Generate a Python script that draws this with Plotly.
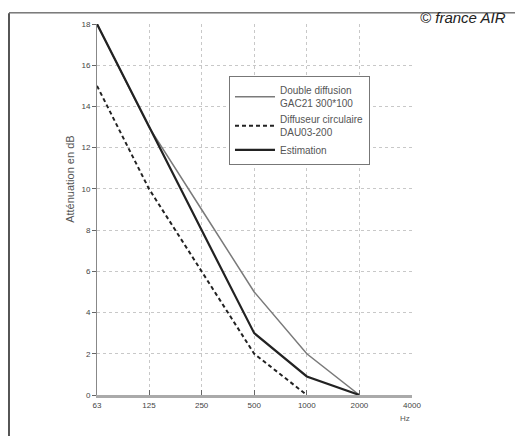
import plotly.graph_objects as go

# fréquences (Hz) et atténuations (dB)
freqs = [63, 125, 250, 500, 1000, 2000]
freqs_circ = [63, 125, 250, 500, 1000]
double_diffusion = [18, 13, 9, 5, 2, 0]
diffuseur_circulaire = [15, 10, 6, 2, 0]
estimation = [18, 13, 8, 3, 0.9, 0]

tick_vals = [63, 125, 250, 500, 1000, 2000, 4000]
tick_text = ['63', '125', '250', '500', '1000', '2000', '4000']

fig = go.Figure()

fig.add_trace(go.Scatter(
    x = freqs,
    y = double_diffusion,
    mode = 'lines',
    name = 'Double diffusion<br>GAC21 300*100',
    line = dict(color = '#7a7a7a', width = 1.5)
))

fig.add_trace(go.Scatter(
    x = freqs_circ,
    y = diffuseur_circulaire,
    mode = 'lines',
    name = 'Diffuseur circulaire<br>DAU03-200',
    line = dict(color = '#222222', width = 2, dash = '4px,3px')
))

fig.add_trace(go.Scatter(
    x = freqs,
    y = estimation,
    mode = 'lines',
    name = 'Estimation',
    line = dict(color = '#222222', width = 2.2)
))

tick_font = dict(family = 'Liberation Sans', size = 8, color = '#444444')

# la page html a une marge de 8 px : marges décalées en conséquence
fig.update_layout(
    width = 523,
    height = 436,
    margin = dict(l = 89, r = 119, t = 12, b = 49),
    paper_bgcolor = 'white',
    plot_bgcolor = 'white',
    showlegend = True,
    legend = dict(
        x = 0.419,
        y = 0.859,
        xanchor = 'left',
        yanchor = 'top',
        bgcolor = 'white',
        bordercolor = '#777777',
        borderwidth = 1,
        itemwidth = 40,
        font = dict(family = 'Liberation Sans', size = 10, color = '#555555'),
        tracegroupgap = 4
    ),
    xaxis = dict(
        type = 'log',
        range = [1.7993, 3.6021],
        tickvals = tick_vals,
        ticktext = tick_text,
        tickfont = tick_font,
        showgrid = True,
        gridcolor = '#c8c8c8',
        griddash = 'dot',
        gridwidth = 1,
        showline = True,
        linecolor = '#aaaaaa',
        linewidth = 3,
        ticks = 'inside',
        ticklen = 5,
        tickcolor = '#666666',
        zeroline = False
    ),
    yaxis = dict(
        range = [0, 18],
        dtick = 2,
        tickfont = tick_font,
        showgrid = True,
        gridcolor = '#c8c8c8',
        griddash = 'dot',
        gridwidth = 1,
        showline = True,
        linecolor = '#888888',
        linewidth = 1,
        ticks = 'outside',
        ticklen = 4,
        tickcolor = '#666666',
        zeroline = False
    ),
    shapes = [
        # cadre gauche et haut
        dict(type = 'line', xref = 'paper', yref = 'paper',
             x0 = -0.2794, x1 = -0.2794, y0 = 1.029, y1 = -0.2,
             line = dict(color = '#555555', width = 2)),
        dict(type = 'line', xref = 'paper', yref = 'paper',
             x0 = -0.2794, x1 = 1.4, y0 = 1.030, y1 = 1.030,
             line = dict(color = '#333333', width = 1)),
    ],
    annotations = [
        dict(text = '<i>© france AIR</i>', xref = 'paper', yref = 'paper',
             x = 1.305, y = 1.0187, xanchor = 'right', yanchor = 'middle',
             showarrow = False,
             font = dict(family = 'Liberation Sans', size = 15, color = '#222222')),
        dict(text = 'Atténuation en dB', xref = 'paper', yref = 'paper',
             x = -0.111, y = 0.58, textangle = -90,
             showarrow = False,
             font = dict(family = 'Liberation Sans', size = 11, color = '#555555')),
        dict(text = 'Hz', xref = 'paper', yref = 'paper',
             x = 1.0, y = -0.08,
             showarrow = False,
             font = dict(family = 'Liberation Sans', size = 8, color = '#555555')),
    ]
)

fig.write_html('out.html')
